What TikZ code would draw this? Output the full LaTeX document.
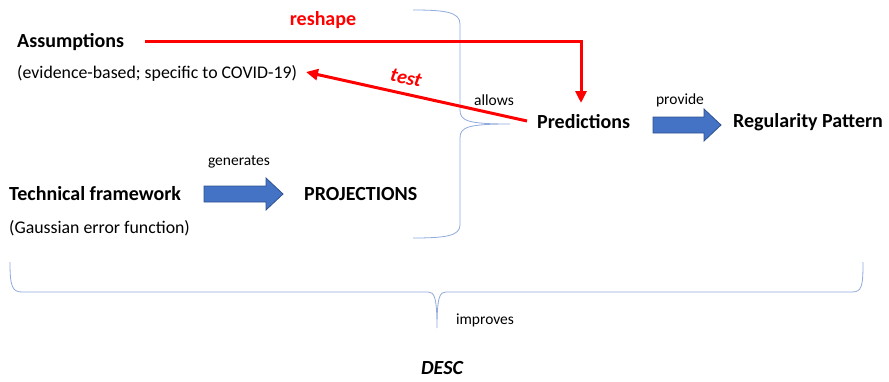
\documentclass[tikz,border=0pt]{standalone}
\usepackage{fontspec}
\setmainfont{Carlito}
\usetikzlibrary{arrows.meta}
\definecolor{redA}{HTML}{FF0000}
\definecolor{blueA}{HTML}{4472C4}
\definecolor{blueB}{HTML}{2F528F}
\definecolor{braceC}{HTML}{8FAADC}
\begin{document}
\begin{tikzpicture}[x=1pt,y=-1pt,
 big/.style={font=\fontsize{20}{24}\selectfont\bfseries, inner sep=0pt, anchor=west},
 sub/.style={font=\fontsize{17.8}{21}\selectfont, inner sep=0pt, anchor=west},
 lab/.style={font=\fontsize{15.5}{18}\selectfont, inner sep=0pt},
 redarr/.style={draw=redA, line width=3pt, -{Triangle[length=12pt,width=11pt]}},
 redlab/.style={text=redA, font=\fontsize{20}{24}\selectfont\bfseries, inner sep=0pt},
 bracec/.style={draw=braceC, line width=0.8pt},
 blk/.style={fill=blueA, draw=blueB, line width=0.8pt}]
\useasboundingbox (0,0) rectangle (889,381);
% text nodes
\node[big] (ass) at (17,42) {Assumptions};
\node[sub] (evi) at (17,73) {(evidence-based; specific to COVID-19)};
\node[big] (pred) at (537,122) {Predictions};
\node[big] (reg) at (733,122) {Regularity Pattern};
\node[big] (tech) at (9,194) {Technical framework};
\node[sub] (gau) at (9,228) {(Gaussian error function)};
\node[big] (proj) at (304,194) {PROJECTIONS};
% labels
\node[lab] (allows) at (494,100) {allows};
\node[lab] (provide) at (680,100) {provide};
\node[lab] (gen) at (239,162) {generates};
\node[lab] (impr) at (485,320) {improves};
\node[font=\fontsize{20}{24}\selectfont\bfseries\itshape, inner sep=0pt] (desc) at (442,368) {DESC};
\node[redlab] (reshape) at (323,20) {reshape};
\node[redlab, font=\fontsize{20}{24}\selectfont\bfseries\itshape, rotate=-12.5] (test) at (406,78) {test};
% braces
\draw[bracec] (413,10) .. controls (445,10) and (460,12) .. (460,24) -- (460,110)
  .. controls (460,121) and (468,124) .. (510,124)
  .. controls (468,124) and (460,127) .. (460,138) -- (460,225)
  .. controls (460,236) and (445,238) .. (413,238);
\draw[bracec] (10,262) .. controls (10,286) and (12,292) .. (22,292) -- (428,292)
  .. controls (434,292) and (437,296) .. (437,328)
  .. controls (437,296) and (440,292) .. (446,292) -- (852,292)
  .. controls (862,292) and (863,286) .. (863,262);
% red arrows
\coordinate (rs) at (145,41);
\coordinate (re) at (581,103);
\draw[redarr] (rs) -| (re);
\coordinate (ts) at (527,121);
\coordinate (te) at (306,72);
\draw[redarr] (ts) -- (te);
% blue block arrows
\filldraw[blk] (653,117)--(704,117)--(704,109)--(721,125)--(704,141)--(704,133)--(653,133)--cycle;
\filldraw[blk] (204,186)--(266,186)--(266,178)--(283,194)--(266,210)--(266,202)--(204,202)--cycle;
\end{tikzpicture}
\end{document}
